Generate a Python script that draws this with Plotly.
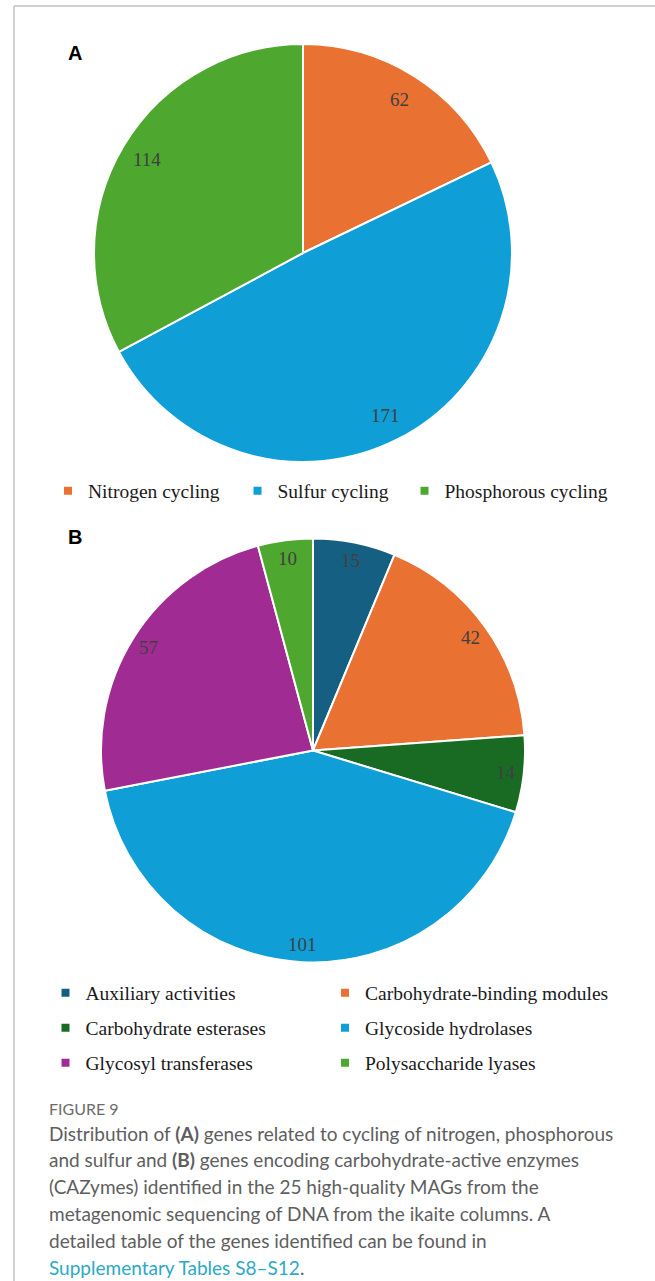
import math
import plotly.graph_objects as go

# Panel A: genes related to nutrient cycling
cycling_labels = ["Nitrogen cycling", "Sulfur cycling", "Phosphorous cycling"]
cycling_counts = [62, 171, 114]
cycling_colors = ["#E97132", "#0F9ED5", "#4EA72E"]

# Panel B: genes encoding carbohydrate-active enzymes
cazy_labels = [
    "Auxiliary activities",
    "Carbohydrate-binding modules",
    "Carbohydrate esterases",
    "Glycoside hydrolases",
    "Glycosyl transferases",
    "Polysaccharide lyases",
]
cazy_counts = [15, 42, 14, 101, 57, 10]
cazy_colors = ["#156082", "#E97132", "#196B24", "#0F9ED5", "#A02B93", "#4EA72E"]

caption_lines = [
    "Distribution of <b>(A)</b> genes related to cycling of nitrogen, phosphorous",
    "and sulfur and <b>(B)</b> genes encoding carbohydrate-active enzymes",
    "(CAZymes) identified in the 25 high-quality MAGs from the",
    "metagenomic sequencing of DNA from the ikaite columns. A",
    "detailed table of the genes identified can be found in",
    "<span style='color:#2BA9C6'>Supplementary Tables S8\u2013S12</span>.",
]

W, H = 655, 1281
SERIF = "Liberation Serif, Times New Roman, serif"
SANS_BOLD = "Liberation Sans, Arial, sans-serif"
CAPTION_FONT = "Lato, Open Sans, sans-serif"

# pie placement in pixels: centre, radius, and radial position of value labels
pies = [
    dict(labels=cycling_labels, values=cycling_counts, colors=cycling_colors,
         cx=303, cy=253, r=209, label_frac=0.87),
    dict(labels=cazy_labels, values=cazy_counts, colors=cazy_colors,
         cx=313, cy=750.5, r=212, label_frac=0.915),
]

# legend slot (left edge, vertical centre) for every category, in pixels
legend_slots = [
    [(48, 491), (237.5, 491), (404.5, 491)],
    [(45.5, 993), (325, 993), (45.5, 1028), (325, 1028), (45.5, 1063), (325, 1063)],
]


def px(x, y):
    return x / W, 1 - y / H


fig = go.Figure()
annotations = []
legends = {}
legend_idx = 0

for pie, slots in zip(pies, legend_slots):
    x0, y1 = px(pie["cx"] - pie["r"], pie["cy"] - pie["r"])
    x1, y0 = px(pie["cx"] + pie["r"], pie["cy"] + pie["r"])
    fig.add_trace(go.Pie(
        labels=pie["labels"], values=pie["values"],
        marker=dict(colors=pie["colors"], line=dict(color="white", width=2)),
        sort=False, direction="clockwise", rotation=0,
        textinfo="none", hoverinfo="label+value", showlegend=False,
        domain=dict(x=[x0, x1], y=[y0, y1]),
    ))

    # value labels near the outer rim of each slice
    total = sum(pie["values"])
    cum = 0
    for v in pie["values"]:
        theta = (cum + v / 2) / total * 2 * math.pi
        cum += v
        d = pie["r"] * pie["label_frac"]
        lx, ly = px(pie["cx"] + d * math.sin(theta), pie["cy"] - d * math.cos(theta))
        annotations.append(dict(
            x=lx, y=ly, xref="paper", yref="paper", text=str(v), showarrow=False,
            xanchor="center", yanchor="middle",
            font=dict(family=SERIF, size=19, color="#404040"),
        ))

    # one legend entry per category
    for label, color, (lx, ly) in zip(pie["labels"], pie["colors"], slots):
        legend_idx += 1
        key = "legend" if legend_idx == 1 else f"legend{legend_idx}"
        fig.add_trace(go.Scatter(
            x=[None], y=[None], mode="markers", name=label,
            marker=dict(symbol="square", size=8, color=color),
            legend=key, showlegend=True, hoverinfo="skip",
        ))
        gx, gy = px(lx, ly)
        legends[key] = dict(
            x=gx, y=gy, xanchor="left", yanchor="middle", orientation="v",
            bgcolor="rgba(0,0,0,0)", borderwidth=0,
            font=dict(family=SERIF, size=19.5, color="#1a1a1a"),
        )

# panel letters
for letter, (lx, ly) in [("A", (74.5, 52.5)), ("B", (74.5, 537))]:
    gx, gy = px(lx, ly)
    annotations.append(dict(
        x=gx, y=gy, xref="paper", yref="paper", text=f"<b>{letter}</b>", showarrow=False,
        xanchor="center", yanchor="middle",
        font=dict(family=SANS_BOLD, size=20, color="#000000"),
    ))

# caption
gx, gy = px(47, 1108)
annotations.append(dict(
    x=gx, y=gy, xref="paper", yref="paper", text="FIGURE 9", showarrow=False,
    xanchor="left", yanchor="middle",
    font=dict(family=CAPTION_FONT, size=16, color="#6b6b6b"),
))
for i, line in enumerate(caption_lines):
    gx, gy = px(47, 1133 + i * 26.8)
    annotations.append(dict(
        x=gx, y=gy, xref="paper", yref="paper", text=line, showarrow=False,
        xanchor="left", yanchor="middle",
        font=dict(family=CAPTION_FONT, size=19, color="#5e5e5e"),
    ))

# thin frame along the top and left edges
frame = dict(color="#c2c2c2", width=1.5)
shapes = [
    dict(type="line", xref="paper", yref="paper",
         x0=14 / W, y0=1 - 6 / H, x1=1, y1=1 - 6 / H, line=frame),
    dict(type="line", xref="paper", yref="paper",
         x0=14 / W, y0=1 - 6 / H, x1=14 / W, y1=0, line=frame),
]

fig.update_layout(
    width=W, height=H,
    margin=dict(l=0, r=0, t=0, b=0, autoexpand=False),
    paper_bgcolor="white", plot_bgcolor="white",
    xaxis=dict(visible=False), yaxis=dict(visible=False),
    annotations=annotations, shapes=shapes,
    **legends,
)

fig.write_html("out.html")
